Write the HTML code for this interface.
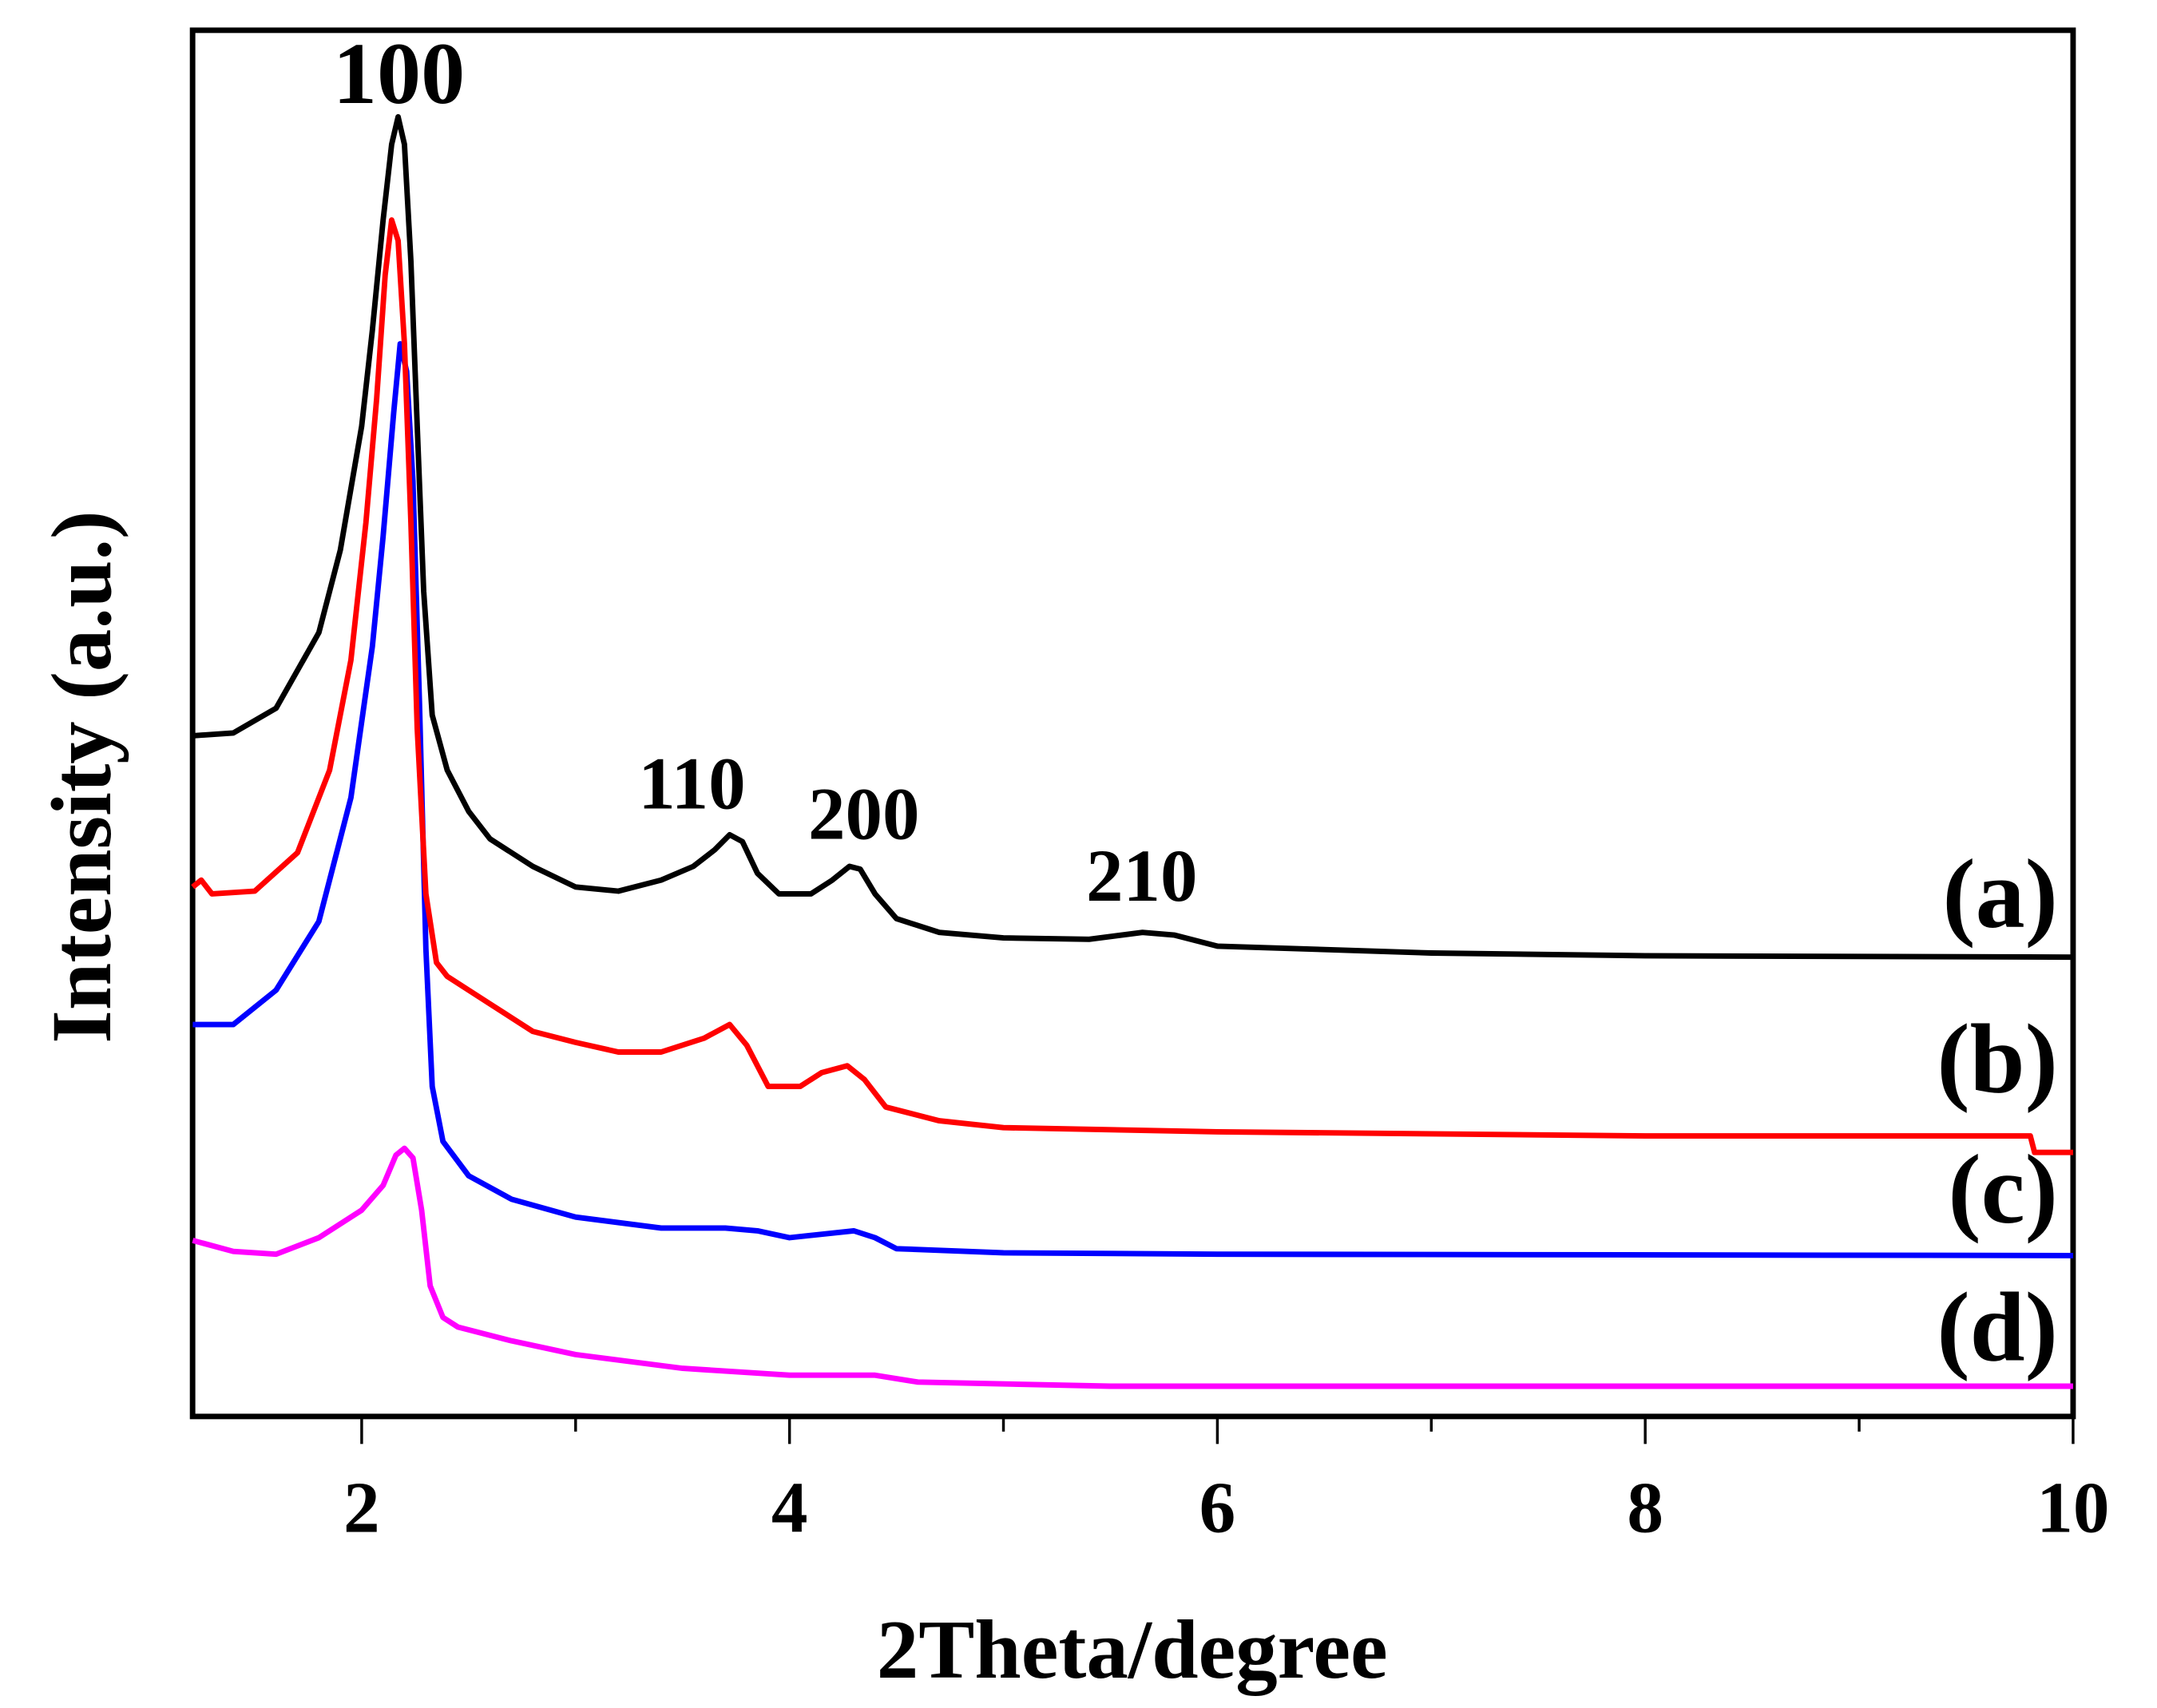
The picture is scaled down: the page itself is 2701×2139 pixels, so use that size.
<!DOCTYPE html>
<html><head><meta charset="utf-8"><style>
html,body{margin:0;padding:0;background:#fff;}
svg{display:block;}
text{font-family:"Liberation Serif",serif;font-weight:bold;fill:#000;}
</style></head><body>
<svg id="chart" width="2701" height="2139" viewBox="0 0 1568 1242" preserveAspectRatio="none" xmlns="http://www.w3.org/2000/svg">
<rect x="140" y="22" width="1367" height="1008" fill="none" stroke="#000" stroke-width="4"/>
<g id="xticks"></g>
<g id="series"></g>
<text x="290" y="75" font-size="64" text-anchor="middle">100</text>
<text x="503" y="588" font-size="54" text-anchor="middle">110</text>
<text x="628" y="610" font-size="54" text-anchor="middle">200</text>
<text x="830" y="655" font-size="54" text-anchor="middle">210</text>
<text x="1496" y="674" font-size="72" text-anchor="end">(a)</text>
<text x="1496" y="794" font-size="72" text-anchor="end">(b)</text>
<text x="1496" y="889" font-size="72" text-anchor="end">(c)</text>
<text x="1496" y="989" font-size="72" text-anchor="end">(d)</text>
<text x="823" y="1220" font-size="61" text-anchor="middle">2Theta/degree</text>
<text transform="translate(80,565) rotate(-90)" font-size="62" text-anchor="middle">Intensity (a.u.)</text>
</svg>
<script>
const xTicks = [2, 4, 6, 8, 10];
const xMinorTicks = [3, 5, 7, 9];
const seriesA_x = [1.21,1.4,1.6,1.8,1.9,2.0,2.05,2.1,2.14,2.17,2.2,2.23,2.26,2.29,2.33,2.4,2.5,2.6,2.8,3.0,3.2,3.4,3.55,3.65,3.72,3.78,3.85,3.95,4.1,4.2,4.28,4.33,4.4,4.5,4.7,5.0,5.4,5.65,5.8,6.0,7,8,10];
const seriesA_y = [495,497,515,570,630,720,790,870,925,945,925,840,720,600,510,470,440,420,400,385,382,390,400,412,423,418,395,380,380,390,400,398,380,362,352,348,347,352,350,342,337,335,334];
const seriesB_x = [1.21,1.25,1.3,1.5,1.7,1.85,1.95,2.02,2.07,2.11,2.14,2.17,2.2,2.23,2.26,2.3,2.35,2.4,2.6,2.8,3.0,3.2,3.4,3.6,3.72,3.8,3.9,4.05,4.15,4.27,4.35,4.45,4.7,5.0,6,8,9.8,9.82,10];
const seriesB_y = [385,390,380,382,410,470,550,650,740,830,870,855,780,650,500,380,330,320,300,280,272,265,265,275,285,270,240,240,250,255,245,225,215,210,207,204,204,192,192];
const seriesC_x = [1.21,1.4,1.6,1.8,1.95,2.05,2.1,2.15,2.18,2.21,2.24,2.27,2.3,2.33,2.38,2.5,2.7,3.0,3.4,3.7,3.85,4.0,4.3,4.4,4.5,5,6,10];
const seriesC_y = [285,285,310,360,450,560,640,730,780,760,680,520,340,240,200,175,158,145,137,137,135,130,135,130,122,119,118,117];
const seriesD_x = [1.21,1.4,1.6,1.8,2.0,2.1,2.16,2.2,2.24,2.28,2.32,2.38,2.45,2.7,3.0,3.5,4,4.4,4.6,5.5,10];
const seriesD_y = [128,120,118,130,150,168,190,195,188,150,95,72,65,55,45,35,30,30,25,22,22];
const colors = ["#000000","#ff0000","#0000ff","#ff00ff"];
const NS = "http://www.w3.org/2000/svg";
const X0 = 1.2096, X1 = 10, PX0 = 140, PX1 = 1507;
function xs(v){ return PX0 + (v - X0) / (X1 - X0) * (PX1 - PX0); }
function ys(v){ return 1030 - v; }
const gx = document.getElementById('xticks');
xTicks.forEach(t => {
  const l = document.createElementNS(NS,'line');
  
  
  l.setAttribute('x1', xs(t)); l.setAttribute('x2', xs(t));
  l.setAttribute('y1', 1030); l.setAttribute('y2', 1050);
  l.setAttribute('stroke', '#000'); l.setAttribute('stroke-width', '2');
  gx.appendChild(l);
  const tx = document.createElementNS(NS,'text');
  
  
  tx.setAttribute('x', xs(t)); tx.setAttribute('y', 1114);
  tx.setAttribute('font-size', '53'); tx.setAttribute('text-anchor', 'middle');
  tx.textContent = t;
  gx.appendChild(tx);
});
xMinorTicks.forEach(t => {
  const l = document.createElementNS(NS,'line');
  
  
  l.setAttribute('x1', xs(t)); l.setAttribute('x2', xs(t));
  l.setAttribute('y1', 1030); l.setAttribute('y2', 1041);
  l.setAttribute('stroke', '#000'); l.setAttribute('stroke-width', '2');
  gx.appendChild(l);
});
const gs = document.getElementById('series');
const all = [[seriesA_x,seriesA_y,'series-a'],[seriesB_x,seriesB_y,'series-b'],[seriesC_x,seriesC_y,'series-c'],[seriesD_x,seriesD_y,'series-d']];
all.slice().reverse().forEach((s, ri) => {
  const i = 3 - ri;
  const p = document.createElementNS(NS,'path');
  
  
  let d = '';
  s[0].forEach((x, k) => { d += (k ? 'L' : 'M') + xs(x).toFixed(1) + ' ' + ys(s[1][k]).toFixed(1) + ' '; });
  p.setAttribute('d', d);
  p.setAttribute('fill', 'none');
  p.setAttribute('stroke', colors[i]);
  p.setAttribute('stroke-width', '4');
  p.setAttribute('stroke-linejoin', 'round');
  gs.appendChild(p);
});
</script>
</body></html>
